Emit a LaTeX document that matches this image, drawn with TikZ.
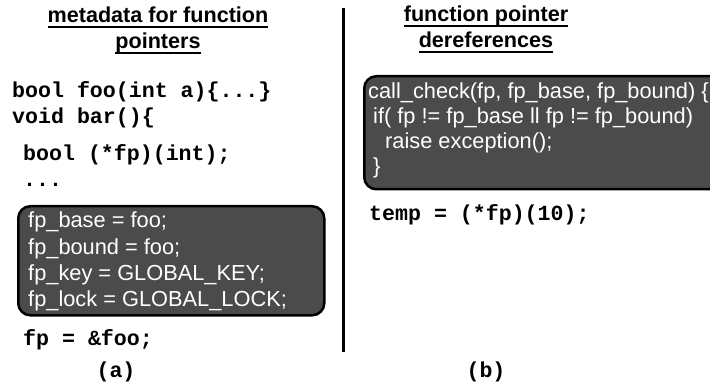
\documentclass[tikz,border=0pt]{standalone}
\usepackage{fontspec}
\setmainfont{Liberation Sans}
\newfontfamily\codefont{Liberation Mono}
\definecolor{boxgray}{HTML}{4B4B4B}
% heading text with a rule set a fixed distance below the baseline
\newcommand\headrule[1]{\setbox0\hbox{#1}\rlap{\rule[-5pt]{\wd0}{1.8pt}}\box0}
\begin{document}
\begin{tikzpicture}[x=1pt,y=-1pt,
  heading/.style={font=\fontsize{21.6}{26}\selectfont\bfseries, anchor=base, inner sep=0pt},
  codeline/.style={font=\fontsize{21.6}{26}\selectfont\codefont\bfseries, anchor=base west, inner sep=0pt},
  panel/.style={draw=black, line width=2.5pt, fill=boxgray, rounded corners=12pt, anchor=north west, inner sep=0pt},
  boxtext/.style={font=\fontsize{21.8}{26}\selectfont, text=white, anchor=base west, inner sep=0pt},
  caption/.style={font=\fontsize{21.6}{26}\selectfont\codefont\bfseries, anchor=base, inner sep=0pt}]
\useasboundingbox (0,0) rectangle (710,385);

% headings
\node[heading] (tA1) at (158,23) {\headrule{metadata for function}};
\node[heading] (tA2) at (158,49) {\headrule{pointers}};
\node[heading] (tB1) at (486,22) {\headrule{function pointer}};
\node[heading] (tB2) at (486,48) {\headrule{dereferences}};

% separator between the two panels
\coordinate (sepTop) at (343,8);
\coordinate (sepBot) at (343,352);
\draw[line width=3pt] (sepTop) -- (sepBot);

% (a) metadata setup
\node[codeline] (foo)  at (12,98)  {bool foo(int a)\{...\}};
\node[codeline] (bar)  at (12,124) {void bar()\{};
\node[codeline] (decl) at (23,161) {bool (*fp)(int);};
\node[codeline] (dots) at (23,187) {...};
\node[panel, minimum width=306pt, minimum height=109pt] (meta) at (17,205) {};
\node[boxtext] (m1) at (28,228) {fp\_base = foo;};
\node[boxtext] (m2) at (28,254) {fp\_bound = foo;};
\node[boxtext] (m3) at (28,280) {fp\_key = GLOBAL\_KEY;};
\node[boxtext] (m4) at (28,306) {fp\_lock = GLOBAL\_LOCK;};
\node[codeline] (assign) at (23,345) {fp = \&foo;};
\node[caption] (capA) at (116,377) {(a)};

% (b) checked dereference
\node[panel, minimum width=380pt, minimum height=113pt] (check) at (363,75) {};
\node[boxtext] (c1) at (368,99)  {call\_check(fp, fp\_base, fp\_bound) \{};
\node[boxtext] (c2) at (373,124) {if( fp != fp\_base ll fp != fp\_bound)};
\node[boxtext] (c3) at (385,149) {raise exception();};
\node[boxtext] (c4) at (373,174) {\}};
\node[codeline] (call) at (369,220) {temp = (*fp)(10);};
\node[caption] (capB) at (486,377) {(b)};
\end{tikzpicture}
\end{document}
